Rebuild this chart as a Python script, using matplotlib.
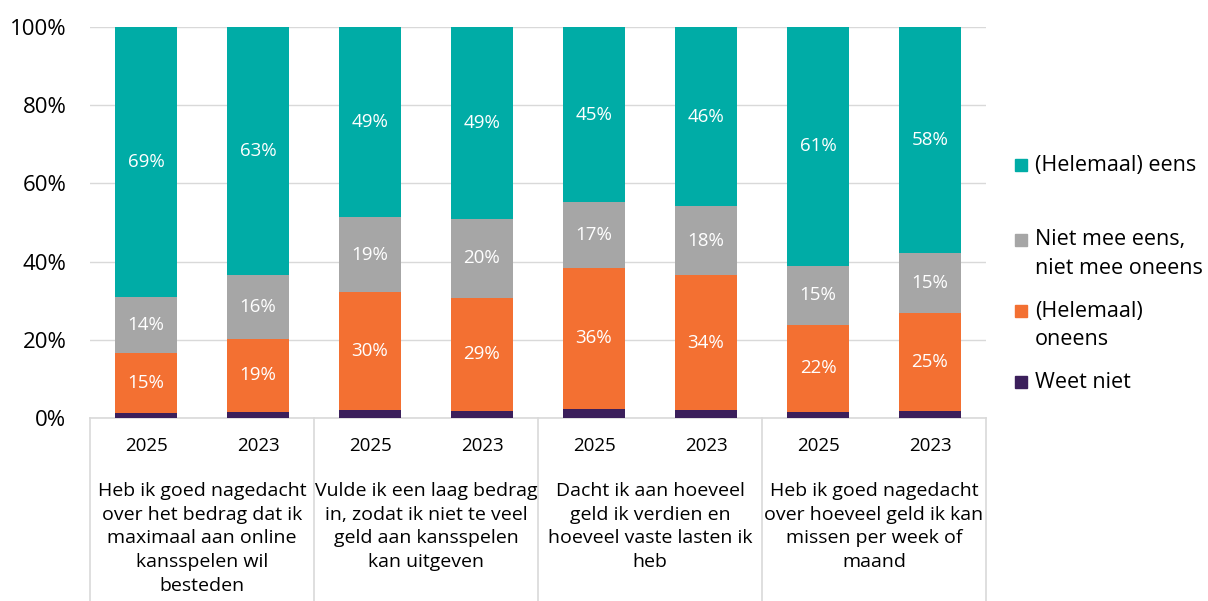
import matplotlib.pyplot as plt
import matplotlib.patches as mpatches
from matplotlib.lines import Line2D
import numpy as np

plt.rcParams['font.family'] = ['Open Sans', 'DejaVu Sans']

# Data (percentages)
years = ['2025', '2023', '2025', '2023', '2025', '2023', '2025', '2023']
groups = ['Heb ik goed nagedacht\nover het bedrag dat ik\nmaximaal aan online\nkansspelen wil\nbesteden',
          'Vulde ik een laag bedrag\nin, zodat ik niet te veel\ngeld aan kansspelen\nkan uitgeven',
          'Dacht ik aan hoeveel\ngeld ik verdien en\nhoeveel vaste lasten ik\nheb',
          'Heb ik goed nagedacht\nover hoeveel geld ik kan\nmissen per week of\nmaand']
weet_niet = [1.2, 1.6, 2.1, 1.8, 2.4, 2.1, 1.5, 1.7]
oneens = [15.4, 18.6, 30.2, 28.9, 35.9, 34.4, 22.4, 25.2]
neutraal = [14.3, 16.4, 19.0, 20.2, 16.9, 17.6, 15.1, 15.3]
eens = [69.1, 63.4, 48.7, 49.1, 44.8, 45.9, 61.0, 57.8]

series = [('Weet niet', weet_niet, '#3B1F5B', False),
          ('(Helemaal) oneens', oneens, '#F37032', True),
          ('Niet mee eens, niet mee oneens', neutraal, '#A6A6A6', True),
          ('(Helemaal) eens', eens, '#00ACA6', True)]

fig = plt.figure(figsize=(12.08, 6.01), dpi=100)
ax = fig.add_axes([90 / 1208, 1 - 418 / 601, 896 / 1208, 391 / 601])

x = np.arange(len(years))
bottom = np.zeros(len(years))
for name, vals, color, show in series:
    vals = np.array(vals)
    ax.bar(x, vals, bottom=bottom, width=0.55, color=color, zorder=3)
    if show:
        for xi, b, v in zip(x, bottom, vals):
            ax.text(xi, b + v / 2, f'{v:.0f}%', ha='center', va='center',
                    color='white', fontsize=13.5, zorder=4)
    bottom += vals

ax.set_xlim(-0.5, len(years) - 0.5)
ax.set_ylim(0, 100)
ax.set_yticks(np.arange(0, 101, 20))
ax.set_yticklabels([f'{t}%' for t in range(0, 101, 20)], fontsize=16)
ax.yaxis.grid(True, color='#D9D9D9', linewidth=1, zorder=0)
ax.tick_params(axis='y', length=0, pad=17)
ax.set_xticks([])
for s in ['top', 'right', 'left']:
    ax.spines[s].set_visible(False)
ax.spines['bottom'].set_color('#D9D9D9')
ax.spines['bottom'].set_linewidth(1.2)

# Category axis: years, group labels and separators
for xi, yr in zip(x, years):
    ax.text(xi, -0.072, yr, transform=ax.get_xaxis_transform(), ha='center',
            va='center', fontsize=13.5)
for gi, g in enumerate(groups):
    ax.text(2 * gi + 0.5, -0.163, g, transform=ax.get_xaxis_transform(),
            ha='center', va='top', fontsize=14, linespacing=1.42)
for sep in np.arange(-0.5, len(years), 2):
    ax.add_line(Line2D([sep, sep], [0, -0.47], transform=ax.get_xaxis_transform(),
                       color='#D9D9D9', linewidth=1.2, clip_on=False))

# Legend
leg_items = [(['(Helemaal) eens'], '#00ACA6', 165),
             (['Niet mee eens,', 'niet mee oneens'], '#A6A6A6', 240),
             (['(Helemaal)', 'oneens'], '#F37032', 311),
             (['Weet niet'], '#3B1F5B', 382)]
for lines, color, ypx in leg_items:
    fig.patches.append(mpatches.Rectangle((1015 / 1208, 1 - (ypx + 6) / 601), 12 / 1208, 12 / 601,
                                          transform=fig.transFigure, color=color))
    for i, line in enumerate(lines):
        fig.text(1035 / 1208, 1 - (ypx + 28 * i) / 601, line, fontsize=15.5, va='center')

fig.savefig('out.png', dpi=100, facecolor='white')
